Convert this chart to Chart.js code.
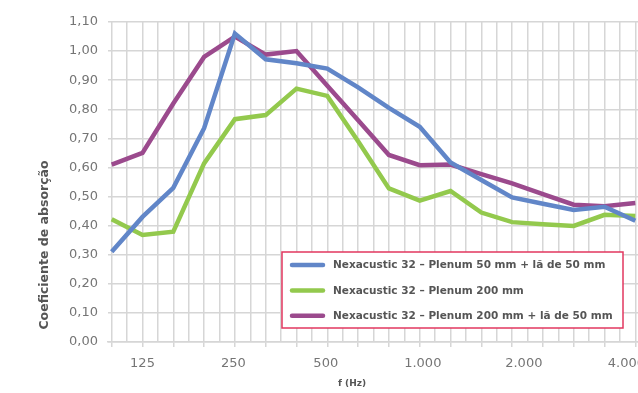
<!DOCTYPE html>
<html>
<head>
<meta charset="utf-8">
<script src="https://cdn.jsdelivr.net/npm/chart.js@4.4.0/dist/chart.umd.min.js"></script>
<style>
html, body { margin: 0; padding: 0; background: #fff; overflow: hidden; }
#wrap { position: relative; width: 700px; height: 393px; }
</style>
</head>
<body>
<div id="wrap"><canvas id="absChart"></canvas></div>
<script>
// third-octave bands (Hz), one point per band
const bands = ['100', '125', '160', '200', '250', '315', '400', '500', '630', '800', '1000', '1250', '1600', '2000', '2500', '3150', '4000', '5000'];

const plenum50La50 = [0.31, 0.43, 0.53, 0.735, 1.06, 0.972, 0.958, 0.94, 0.875, 0.805, 0.74, 0.617, 0.557, 0.497, 0.475, 0.454, 0.465, 0.417];
const plenum200 = [0.422, 0.368, 0.379, 0.614, 0.766, 0.78, 0.871, 0.846, 0.69, 0.528, 0.486, 0.519, 0.445, 0.412, 0.405, 0.399, 0.437, 0.433];
const plenum200La50 = [0.61, 0.65, 0.82, 0.98, 1.05, 0.988, 1.0, 0.881, 0.762, 0.643, 0.608, 0.61, 0.577, 0.545, 0.508, 0.472, 0.467, 0.478];

const seriesNames = [
    'Nexacustic 32 – Plenum 50 mm + lã de 50 mm',
    'Nexacustic 32 – Plenum 200 mm',
    'Nexacustic 32 – Plenum 200 mm + lã de 50 mm'
];
const seriesColors = ['#6186c8', '#93c94d', '#9b4a8d'];

// octave labels and where they sit along the band index
const freqLabels = ['125', '250', '500', '1.000', '2.000', '4.000'];
const freqLabelAt = [1.0, 3.95, 6.95, 10.1, 13.38, 16.71];

const yTitle = 'Coeficiente de absorção';
const xTitle = 'f (Hz)';

const gridGray = '#d6d6d6';
const textGray = '#757575';
const darkGray = '#555555';

function toPoints(values) {
    return values.map((v, i) => ({ x: i, y: v }));
}

const overlay = {
    id: 'overlay',
    afterDraw(chart) {
        const ctx = chart.ctx;
        ctx.save();

        // axis titles
        ctx.fillStyle = darkGray;
        ctx.textAlign = 'center';
        ctx.textBaseline = 'middle';
        ctx.font = 'bold 9px "DejaVu Sans"';
        ctx.fillText(xTitle, 352, 384);

        ctx.save();
        ctx.translate(45, 245);
        ctx.rotate(-Math.PI / 2);
        ctx.font = 'bold 12.5px "DejaVu Sans"';
        ctx.fillText(yTitle, 0, 0);
        ctx.restore();

        // legend box
        const bx = 282, by = 252, bw = 341, bh = 76;
        ctx.fillStyle = '#ffffff';
        ctx.fillRect(bx, by, bw, bh);
        ctx.strokeStyle = '#e2375f';
        ctx.lineWidth = 1.5;
        ctx.strokeRect(bx, by, bw, bh);

        ctx.font = 'bold 10.5px "DejaVu Sans"';
        ctx.textAlign = 'left';
        chart.data.datasets.forEach((ds, i) => {
            const ry = 265 + i * 25.4;
            ctx.strokeStyle = ds.borderColor;
            ctx.lineWidth = 4.5;
            ctx.lineCap = 'round';
            ctx.beginPath();
            ctx.moveTo(292, ry);
            ctx.lineTo(323, ry);
            ctx.stroke();
            ctx.fillStyle = darkGray;
            ctx.fillText(ds.label, 333, ry + 0.5);
        });
        ctx.restore();
    }
};

const ctx = document.getElementById('absChart').getContext('2d');
new Chart(ctx, {
    type: 'line',
    data: {
        datasets: [
            { label: seriesNames[0], data: toPoints(plenum50La50), borderColor: seriesColors[0] },
            { label: seriesNames[1], data: toPoints(plenum200), borderColor: seriesColors[1] },
            { label: seriesNames[2], data: toPoints(plenum200La50), borderColor: seriesColors[2] }
        ]
    },
    options: {
        responsive: true,
        maintainAspectRatio: false,
        animation: false,
        layout: { padding: { top: 22, left: 0, right: 0, bottom: 0 } },
        elements: {
            line: { borderWidth: 4.5, tension: 0, fill: false },
            point: { radius: 0, hoverRadius: 0 }
        },
        plugins: {
            legend: { display: false },
            tooltip: { enabled: false }
        },
        scales: {
            // grid axis: a line every half band, tick marks on the bands
            x: {
                type: 'linear',
                position: 'bottom',
                min: -0.12,
                max: 19.1,
                afterBuildTicks: scale => {
                    const t = [];
                    for (let k = 0; k <= 38; k++) t.push({ value: k / 2 });
                    scale.ticks = t;
                },
                afterFit: scale => { scale.height = 5; },
                grid: {
                    color: gridGray,
                    lineWidth: 1.5,
                    tickLength: 5,
                    tickColor: c => (c.index % 2 === 0) ? gridGray : 'rgba(255,255,255,0)'
                },
                border: { display: true, color: gridGray, width: 1.5 },
                ticks: { display: false, autoSkip: false }
            },
            // label axis: octave labels only
            xl: {
                type: 'linear',
                position: 'bottom',
                min: -0.12,
                max: 19.1,
                afterBuildTicks: scale => {
                    scale.ticks = freqLabelAt.map(v => ({ value: v }));
                },
                afterFit: scale => { scale.height = 46; },
                grid: { display: false },
                border: { display: false },
                ticks: {
                    autoSkip: false,
                    maxRotation: 0,
                    padding: 1,
                    color: textGray,
                    font: { family: 'DejaVu Sans', size: 13 },
                    callback: value => {
                        const k = freqLabelAt.indexOf(value);
                        return k >= 0 ? freqLabels[k] : '';
                    }
                }
            },
            y: {
                min: 0,
                max: 1.1,
                afterFit: scale => { scale.width = 108; },
                grid: { color: gridGray, lineWidth: 1.5, drawTicks: false },
                border: { display: false },
                ticks: {
                    stepSize: 0.1,
                    padding: 10,
                    color: textGray,
                    font: { family: 'DejaVu Sans', size: 13 },
                    callback: value => value.toFixed(2).replace('.', ',')
                }
            }
        }
    },
    plugins: [overlay]
});
</script>
</body>
</html>
